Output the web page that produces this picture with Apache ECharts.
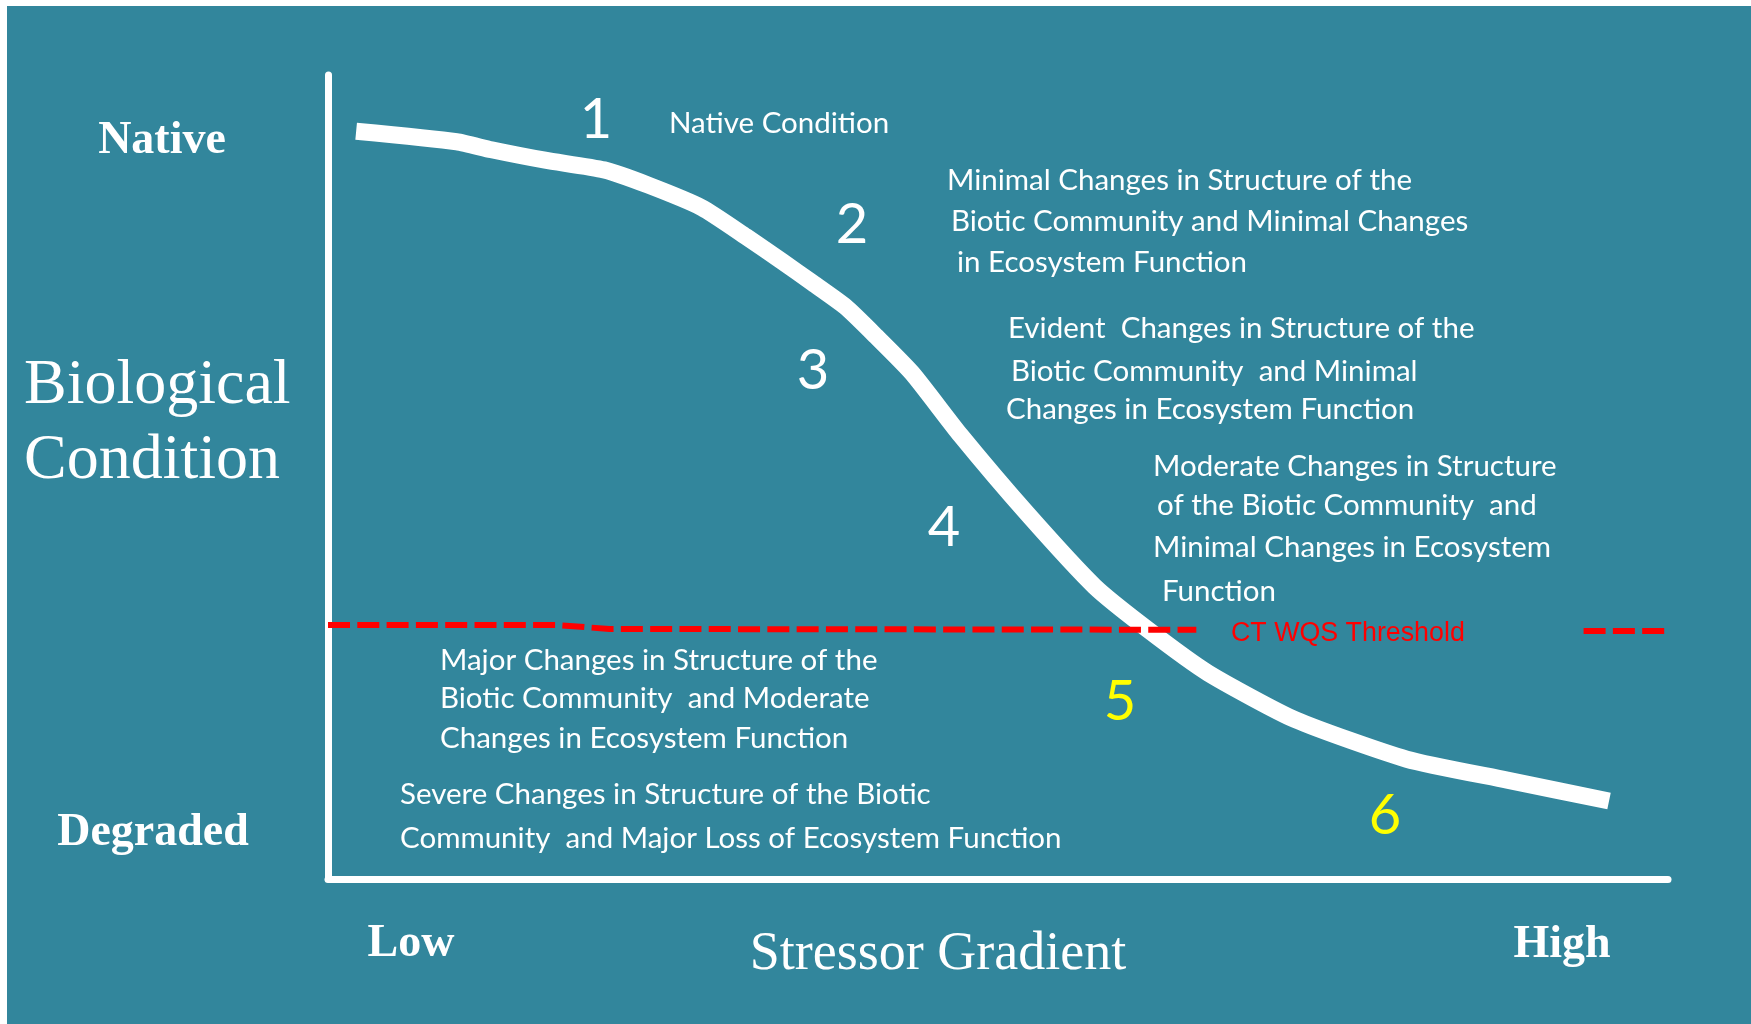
<!DOCTYPE html>
<html>
<head>
<meta charset="utf-8">
<script src="https://cdn.jsdelivr.net/npm/echarts@6/dist/echarts.min.js"></script>
<style>
html,body{margin:0;padding:0;background:#ffffff;}
#chart{width:1751px;height:1024px;}
</style>
</head>
<body>
<div id="chart"></div>
<script>
// ---- data (stressor gradient 0..100, biological condition 0..100) ----
const curveX = [2.1, 9.6, 12.2, 16.2, 20.6, 23.9, 27.9, 31.2, 33.9, 36.2, 38.6, 40.9, 43.6, 47.2, 52.2, 57.2, 61.2, 65.7, 72.2, 80.5, 88.0, 95.6];
const curveY = [93.0, 91.7, 90.7, 89.4, 88.2, 86.3, 83.5, 79.9, 76.8, 74.1, 71.2, 67.5, 62.9, 55.2, 45.4, 36.4, 31.0, 25.6, 19.8, 14.9, 12.3, 9.7];
const thresholdLeftX = [0, 17.0, 21.0, 64.8];
const thresholdLeftY = [31.6, 31.6, 31.1, 31.0];
const thresholdRightX = [93.7, 101.6];
const thresholdRightY = [30.85, 30.85];

const tierNumbers = ['1', '2', '3', '4', '5', '6'];
const tier1Lines = ['Native Condition'];
const tier2Lines = ['Minimal Changes in Structure of the', 'Biotic Community and Minimal Changes', 'in Ecosystem Function'];
const tier3Lines = ['Evident  Changes in Structure of the', 'Biotic Community  and Minimal', 'Changes in Ecosystem Function'];
const tier4Lines = ['Moderate Changes in Structure', 'of the Biotic Community  and', 'Minimal Changes in Ecosystem', 'Function'];
const tier5Lines = ['Major Changes in Structure of the', 'Biotic Community  and Moderate', 'Changes in Ecosystem Function'];
const tier6Lines = ['Severe Changes in Structure of the Biotic', 'Community  and Major Loss of Ecosystem Function'];
const yAxisTitle = ['Biological', 'Condition'];
const yEndLabels = ['Native', 'Degraded'];
const xEndLabels = ['Low', 'High'];
const xAxisTitle = 'Stressor Gradient';
const thresholdLabel = 'CT WQS Threshold';

// ---- layout ----
const BG = '#32869C';
const bodyFont = '29.5px Lato';
const numFont = '56px Lato';
const serifBold = 'bold 46px "Liberation Serif"';
const serifBig = '64px "Liberation Serif"';
const serifMid = '54px "Liberation Serif"';

function txt(x, y, text, font, fill, align) {
  return {type: 'text', x: x, y: y, z: 20,
    style: {text: text, font: font, fill: fill, align: align || 'left', verticalAlign: 'middle'}};
}
function block(lines, xs, ys) {
  return lines.map((l, i) => txt(xs[i], ys[i], l, bodyFont, '#ffffff', 'left'));
}

const graphics = [
  {type: 'rect', z: -10, shape: {x: 7, y: 6, width: 1744, height: 1018}, style: {fill: BG}},
  txt(162, 141.5, yEndLabels[0], serifBold, '#ffffff', 'center'),
  txt(153, 833.5, yEndLabels[1], serifBold, '#ffffff', 'center'),
  txt(411, 944.5, xEndLabels[0], serifBold, '#ffffff', 'center'),
  txt(1562, 945.5, xEndLabels[1], serifBold, '#ffffff', 'center'),
  txt(24, 386.5, yAxisTitle[0], serifBig, '#ffffff', 'left'),
  txt(24, 461.5, yAxisTitle[1], serifBig, '#ffffff', 'left'),
  txt(938, 954.5, xAxisTitle, serifMid, '#ffffff', 'center'),
  txt(1231, 634, thresholdLabel, '26.8px "Liberation Sans"', '#ff0000', 'left'),
  txt(596, 120, tierNumbers[0], numFont, '#ffffff', 'center'),
  txt(852, 225, tierNumbers[1], numFont, '#ffffff', 'center'),
  txt(813, 371, tierNumbers[2], numFont, '#ffffff', 'center'),
  txt(944, 528, tierNumbers[3], numFont, '#ffffff', 'center'),
  txt(1120, 702, tierNumbers[4], numFont, '#ffff00', 'center'),
  txt(1385, 816, tierNumbers[5], numFont, '#ffff00', 'center')
]
.concat(block(tier1Lines, [669], [123]))
.concat(block(tier2Lines, [947, 951, 957], [180, 221, 262]))
.concat(block(tier3Lines, [1008, 1011, 1006], [328, 371, 409]))
.concat(block(tier4Lines, [1153, 1157, 1153, 1162], [466, 505, 547, 591]))
.concat(block(tier5Lines, [440, 440, 440], [660, 698, 738]))
.concat(block(tier6Lines, [400, 400], [794, 838]));

const zip = (xs, ys) => xs.map((x, i) => [x, ys[i]]);

const chart = echarts.init(document.getElementById('chart'));
chart.setOption({
  backgroundColor: '#ffffff',
  animation: false,
  grid: {left: 328, top: 75, right: 83, bottom: 145},
  xAxis: {type: 'value', min: 0, max: 100,
    axisLine: {show: true, lineStyle: {color: '#ffffff', width: 7}},
    axisTick: {show: false}, axisLabel: {show: false}, splitLine: {show: false}},
  yAxis: {type: 'value', min: 0, max: 100,
    axisLine: {show: true, lineStyle: {color: '#ffffff', width: 7}},
    axisTick: {show: false}, axisLabel: {show: false}, splitLine: {show: false}},
  graphic: graphics,
  series: [
    {type: 'line', name: 'Biological condition', data: zip(curveX, curveY), symbol: 'none',
      smooth: 0.2, lineStyle: {color: '#ffffff', width: 17, cap: 'butt', join: 'round'}, z: 3},
    {type: 'line', name: 'CT WQS Threshold', data: zip(thresholdLeftX, thresholdLeftY), symbol: 'none',
      clip: false, lineStyle: {color: '#ff0000', width: 6, type: [22, 7.3]}, z: 4},
    {type: 'line', name: 'CT WQS Threshold right', data: zip(thresholdRightX, thresholdRightY), symbol: 'none',
      clip: false, lineStyle: {color: '#ff0000', width: 6, type: [22, 7.3]}, z: 4}
  ]
});
</script>
</body>
</html>
